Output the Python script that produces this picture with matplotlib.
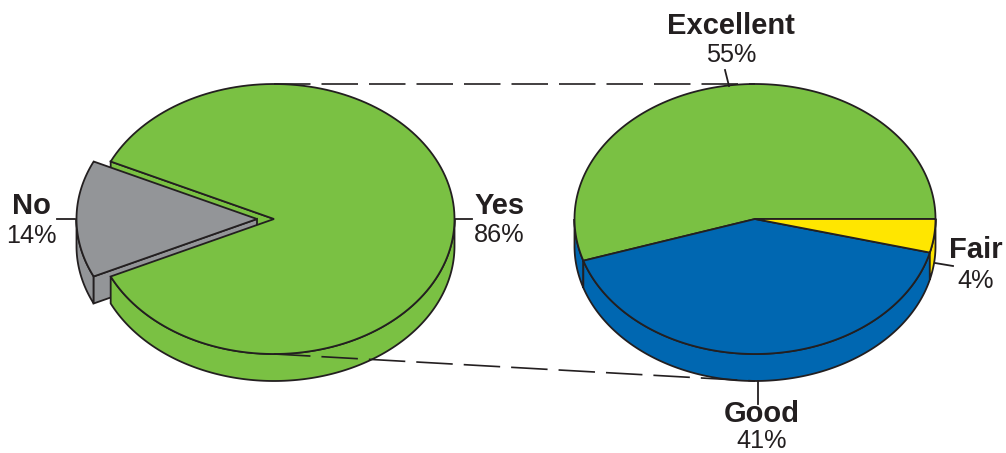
import numpy as np
import matplotlib
matplotlib.use("Agg")
import matplotlib.pyplot as plt
from matplotlib.patches import Polygon

# --- data ---
left_labels = ["Yes", "No"]
left_values = [86, 14]
right_labels = ["Excellent", "Good", "Fair"]
right_values = [55, 41, 4]

GREEN, BLUE, YELLOW, GRAY, INK = "#7AC143", "#0067B1", "#FFE600", "#939598", "#231F20"
RX, RY, DEPTH = 180.5, 135, 27
LCX, RCX, CY = 274, 755, 219
EXPLODE = 17
LW = 1.3

plt.rcParams["font.family"] = ["Liberation Sans", "DejaVu Sans"]
plt.rcParams["lines.scale_dashes"] = False
fig = plt.figure(figsize=(10.06, 4.53), dpi=100)
ax = fig.add_axes([0, 0, 1, 1])
ax.set_xlim(0, 1006)
ax.set_ylim(453, 0)
ax.axis("off")


def arc(cx, a0, a1, dy=0, n=160):
    t = np.radians(np.linspace(a0, a1, n))
    return np.column_stack([cx + RX * np.cos(t), CY + dy - RY * np.sin(t)])


def poly(pts, color, z):
    ax.add_patch(Polygon(pts, closed=True, facecolor=color, edgecolor=INK,
                         linewidth=LW, joinstyle="miter", zorder=z))


def top(cx, a0, a1, color, z):
    poly(np.vstack([[cx, CY], arc(cx, a0, a1)]), color, z)


def side(cx, a0, a1, color, z):
    poly(np.vstack([arc(cx, a0, a1), arc(cx, a1, a0, DEPTH)]), color, z)


def cut(cx, a, color, z):
    e = arc(cx, a, a, n=1)[0]
    poly([[cx, CY], e, e + [0, DEPTH], [cx, CY + DEPTH]], color, z)


# --- left pie: "No" is pulled out of the "Yes" pie ---
half = left_values[1] / sum(left_values) * 360 / 2
gx = LCX - EXPLODE
cut(LCX, 180 - half, GREEN, 1)
side(gx, 180, 180 + half, GRAY, 2)
cut(gx, 180 + half, GRAY, 3)
top(gx, 180 - half, 180 + half, GRAY, 4)
side(LCX, 180 + half, 360, GREEN, 5)
top(LCX, 180 + half, 540 - half, GREEN, 6)

# --- right pie: starts at 3 o'clock going counter-clockwise ---
angles = np.cumsum([0] + right_values) / sum(right_values) * 360
exc, good, fair = [(angles[i], angles[i + 1]) for i in range(3)]
side(RCX, 180, exc[1], BLUE, 1)
side(RCX, good[0], good[1], BLUE, 2)
side(RCX, fair[0], fair[1], YELLOW, 2)
top(RCX, *exc, GREEN, 3)
top(RCX, *good, BLUE, 3)
top(RCX, *fair, YELLOW, 3)

# --- connector dashes (pixel lengths converted to points) ---
for y0, y1 in ((CY - RY, CY - RY), (CY + RY, CY + RY + DEPTH)):
    ln, = ax.plot([LCX, RCX], [y0, y1], color=INK, lw=1.2, zorder=8)
    ln.set_dashes((36.5 * 0.72, 11 * 0.72))
    ln.set_dash_capstyle("butt")

# --- leaders ---
leaders = [((455, 219), (472, 219)), ((57, 219), (75, 219)),
           ((725, 70), (729, 86)), ((935, 263), (953, 266)),
           ((758.5, 381), (758.5, 404))]
for a, b in leaders:
    ax.plot([a[0], b[0]], [a[1], b[1]], color=INK, lw=LW, zorder=9)

# --- labels ---
all_labels = left_labels + right_labels
all_values = left_values + right_values
pos = [(499.5, 205.5, 235.5), (31, 205.5, 236), (731, 25.5, 55),
       (762, 414, 441.5), (976, 250.5, 281.5)]
for lab, val, (x, y1, y2) in zip(all_labels, all_values, pos):
    ax.text(x, y1, lab, ha="center", va="center", fontsize=21, fontweight="bold", color=INK)
    ax.text(x, y2, f"{val}%", ha="center", va="center", fontsize=18.2, color=INK)

fig.savefig("out.png", dpi=100)
